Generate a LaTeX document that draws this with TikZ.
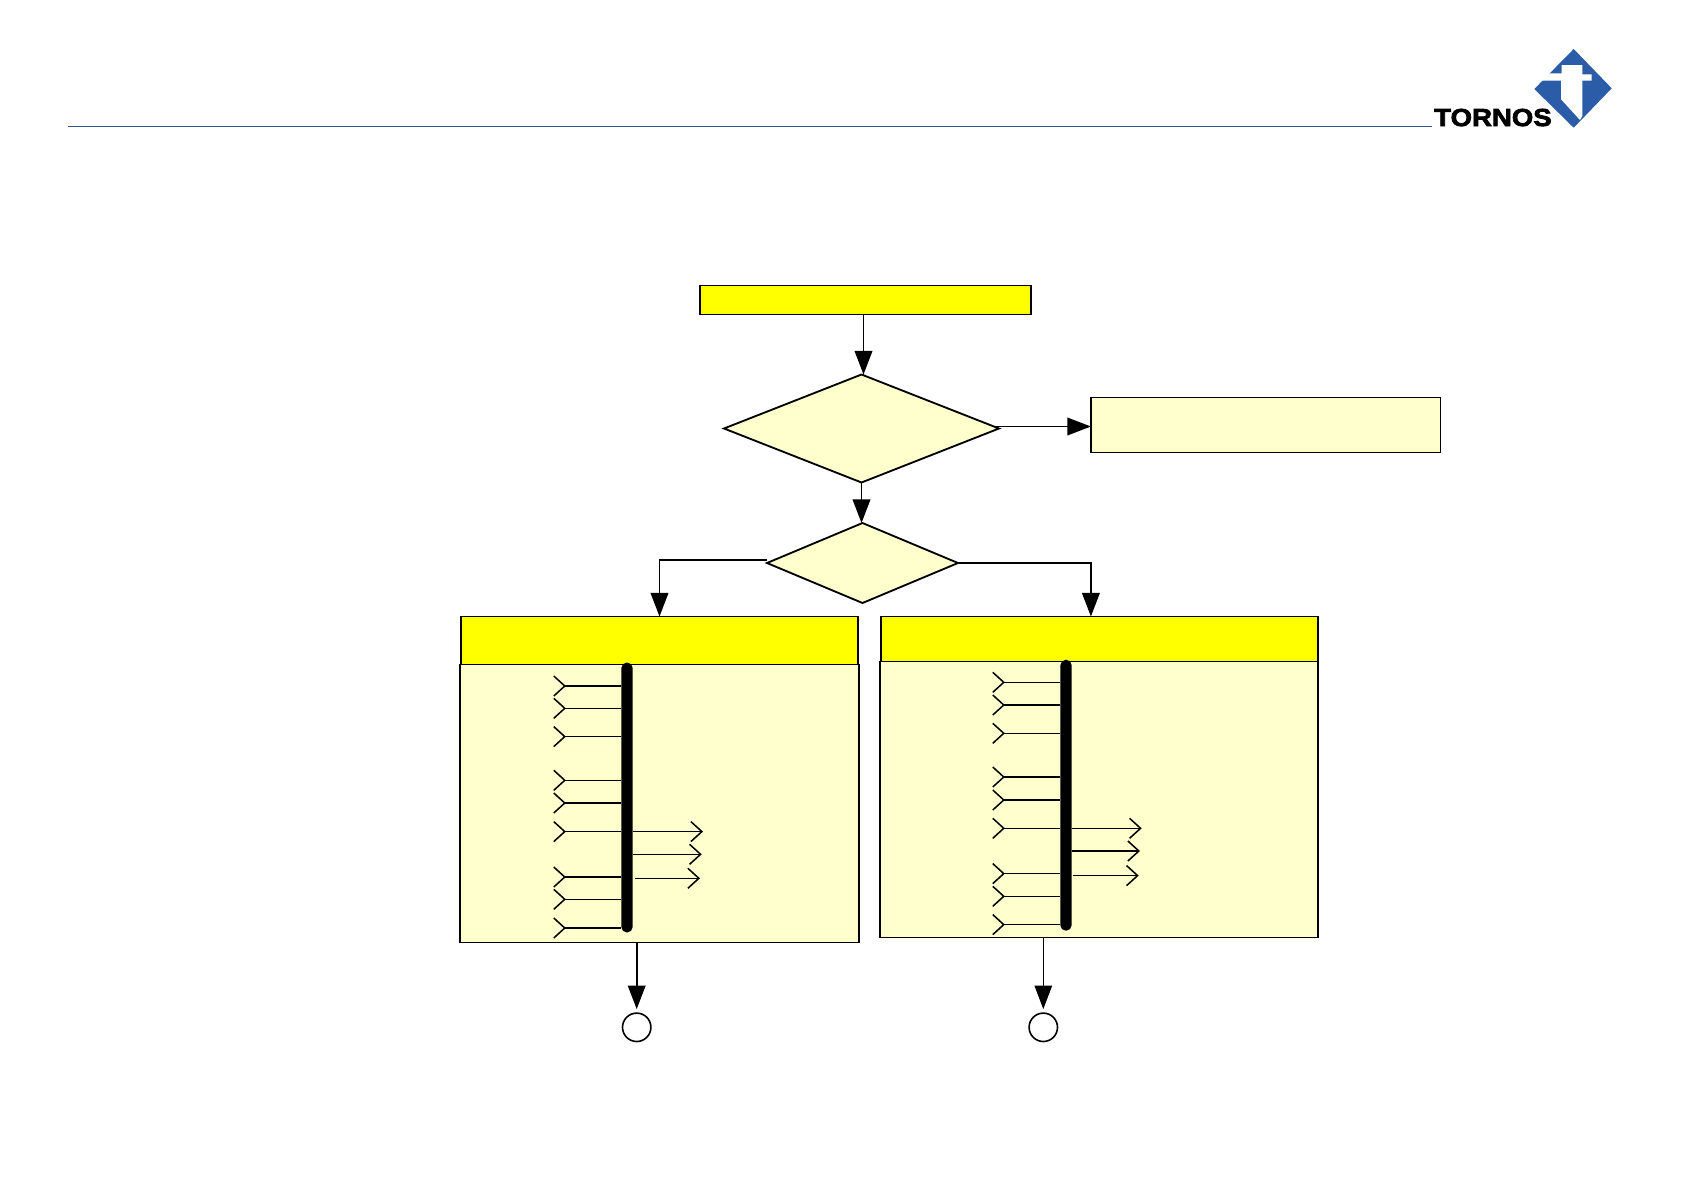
\documentclass[tikz,border=0pt]{standalone}
\usepackage{fontspec}
\newfontfamily\logofont[BoldFeatures={FakeStretch=1.12,FakeBold=3}]{Liberation Sans}
\usetikzlibrary{arrows.meta,shapes.geometric}
\definecolor{headyellow}{HTML}{FFFF00}
\definecolor{paleyellow}{HTML}{FFFFCE}
\definecolor{logoblue}{HTML}{2B5CA8}
\definecolor{ruleblue}{HTML}{34538A}

\begin{document}
\begin{tikzpicture}[x=0.25mm,y=-0.25mm,
  head/.style={draw,line width=0.46mm,fill=headyellow,inner sep=0pt,outer sep=0pt},
  pale/.style={draw,line width=0.46mm,fill=paleyellow,inner sep=0pt,outer sep=0pt},
  choice/.style={pale,diamond},
  bus/.style={fill=black,rounded corners=1.4mm,inner sep=0pt,outer sep=0pt,minimum width=2.85mm},
  stop/.style={draw,circle,line width=0.4mm,fill=white,inner sep=0pt,outer sep=0pt,minimum size=7.1mm},
  flow/.style={-{Triangle[length=5.9mm,width=4.4mm]},line width=0.46mm},
  wirein/.style={-{Straight Barb[reversed,length=2.75mm,width=5mm]},line width=0.38mm},
  wireout/.style={-{Straight Barb[length=2.75mm,width=5mm]},line width=0.38mm}]
\useasboundingbox (0,0) rectangle (1683,1190);
% header
\coordinate (rulestart) at (68,126.7);
\coordinate (ruleend) at (1432,126.7);
\draw[ruleblue,line width=0.3mm] (rulestart) -- (ruleend);
\fill[logoblue] (1573.7,49) -- (1611.7,88.3) -- (1573.7,127.7) -- (1534.3,89) -- cycle;
\fill[white] (1561.7,65) -- (1582.3,65) -- (1582.3,74.3) -- (1591.7,74.3) -- (1591.7,80.7)
  -- (1582.3,80.7) -- (1582.3,116) -- (1580,120) -- (1561,99.3) -- (1561,80.7)
  -- (1541.7,80.7) -- (1549,73.3) -- (1561.7,73.3) -- cycle;
\node[anchor=base west,inner sep=0pt,font=\logofont\bfseries\fontsize{17.5pt}{17.5pt}\selectfont] (tornos) at (1434,126) {TORNOS};
% flow chart
\node[head,minimum width=82.75mm,minimum height=7.25mm] (start) at (865.5,300) {};
\node[choice,minimum width=68.75mm,minimum height=27mm] (done) at (861.5,428.5) {};
\node[pale,minimum width=87.4mm,minimum height=13.75mm] (note) at (1265.7,425) {};
\node[choice,minimum width=47.75mm,minimum height=20mm] (dtwo) at (862.5,563) {};
\node[pale,minimum width=99.75mm,minimum height=69.5mm] (lbody) at (659.5,803.5) {};
\node[pale,minimum width=109.5mm,minimum height=69mm] (rbody) at (1099,799.5) {};
\node[head,minimum width=99.25mm,minimum height=12mm] (lhead) at (659.5,640.5) {};
\node[head,minimum width=109.25mm,minimum height=11.25mm] (rhead) at (1099.5,639) {};
\node[bus,minimum height=67.5mm] (lbus) at (627,797.5) {};
\node[bus,minimum height=67.75mm] (rbus) at (1066,795.2) {};
\node[stop] (lstop) at (636.7,1027.3) {};
\node[stop] (rstop) at (1043.3,1027.3) {};
\draw[flow] ([xshift=0.5mm]start.south -| done.north) -- ([xshift=0.5mm]done.north);
\draw[flow] ([shift={(-1.6mm,0.5mm)}]done.east) -- ([yshift=0.5mm]done.east -| note.west);
\draw[flow] (done.south) -- (done.south |- dtwo.north);
\draw[flow] ([yshift=0.75mm]dtwo.west) -| (lhead.north);
\draw[flow] (dtwo.east) -| (rhead.north -| note.west);
\draw[flow,shorten >=1mm] (lstop.north |- lbody.south) -- (lstop.north);
\draw[flow,line width=0.28mm,shorten >=1mm] (rstop.north |- rbody.south) -- (rstop.north);
% left panel wires
\foreach \y in {686,708.3,736.6,780.3,803,831.6,877,899.3,928}
  \draw[wirein] (lbus.west |- 0,\y) -- (553,\y);
\draw[wireout] (lbus.east |- 0,831.6) -- (703,831.6);
\draw[wireout] (lbus.east |- 0,854.3) -- (701.7,854.3);
\draw[wireout] (635,878.3) -- (700,878.3);
% right panel wires
\foreach \y in {682.3,705,733.3,777,800,828.3,873.6,896.3,924.6}
  \draw[wirein] (rbus.west |- 0,\y) -- (992,\y);
\draw[wireout] (rbus.east |- 0,828.3) -- (1141.7,828.3);
\draw[wireout] (rbus.east |- 0,851) -- (1140,851);
\draw[wireout] (1073,875.6) -- (1138.7,875.6);
\end{tikzpicture}
\end{document}
